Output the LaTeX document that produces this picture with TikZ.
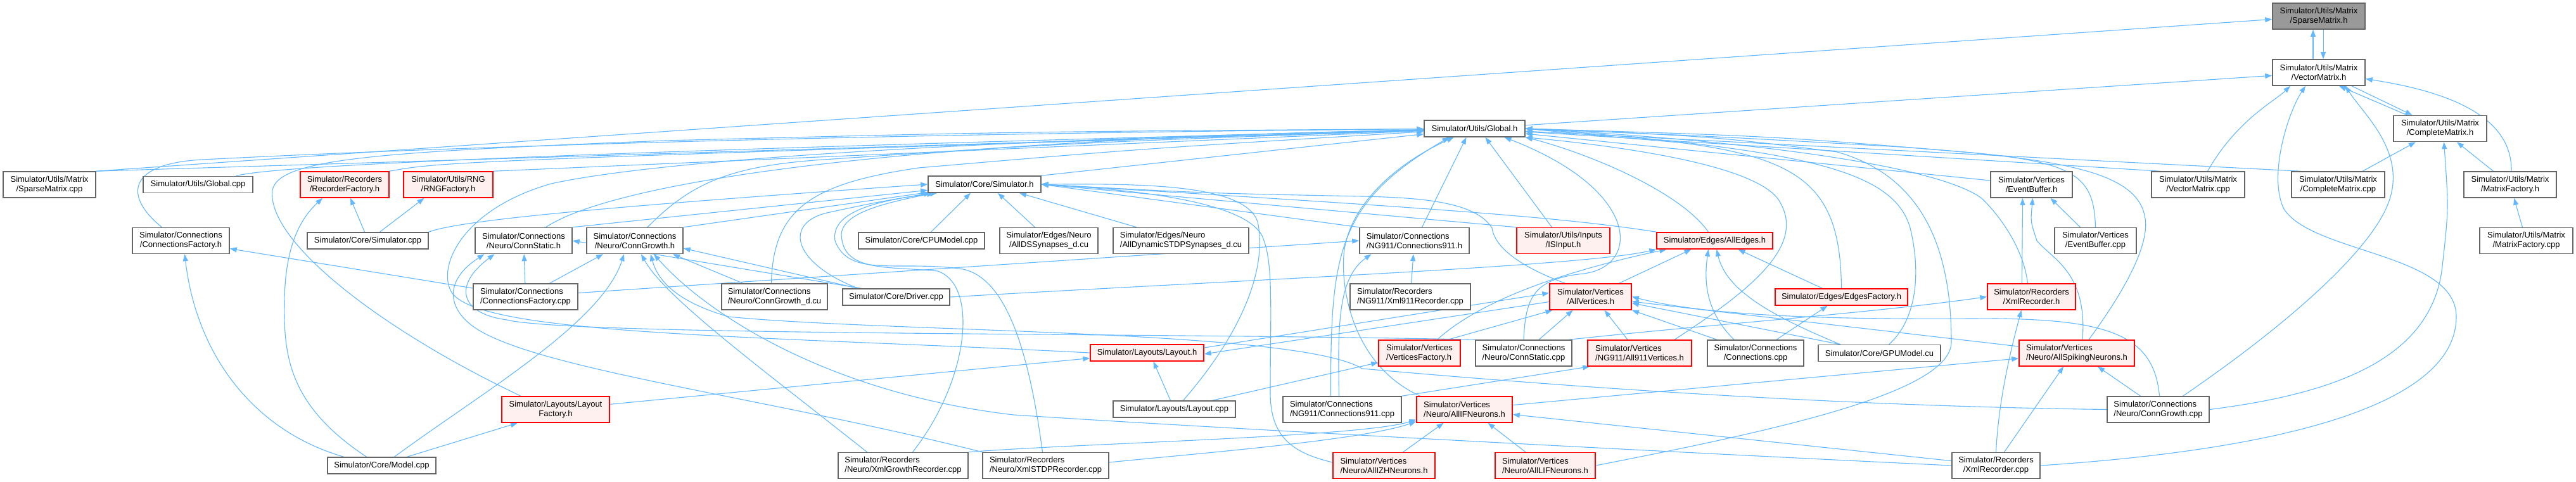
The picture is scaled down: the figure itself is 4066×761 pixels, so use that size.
\documentclass[tikz,border=0pt]{standalone}
\usepackage{fontspec}
\setmainfont{Liberation Sans}
\usetikzlibrary{arrows.meta}
\pgfdeclarelayer{bg}
\pgfsetlayers{bg,main}
\definecolor{edgec}{HTML}{63B8FF}
\definecolor{bordgray}{HTML}{666666}
\definecolor{redfill}{HTML}{FFF0F0}
\definecolor{grayfill}{HTML}{999999}
\tikzset{
  nbox/.style={draw=bordgray, fill=white, line width=1.5bp, inner sep=0pt, minimum height=26bp, align=center, font=\fontsize{13bp}{15bp}\selectfont},
  ntwo/.style={minimum height=41bp},
  nleft/.style={align=left},
  nred/.style={draw=red, fill=redfill},
  ngray/.style={fill=grayfill},
  edg/.style={draw=edgec, line width=1.1bp, -{Triangle[length=11bp,width=8bp]}},
}
\begin{document}
\begin{tikzpicture}[x=1bp,y=-1bp]
\useasboundingbox (0,0) rectangle (4066,761);
% ---------------- nodes
\node[nbox,ntwo,ngray,minimum width=146bp] (spmh) at (3660,25.5) {Simulator/Utils/Matrix\\/SparseMatrix.h};
\node[nbox,ntwo,minimum width=146bp] (vmh) at (3660,114.5) {Simulator/Utils/Matrix\\/VectorMatrix.h};
\node[nbox,minimum width=159bp] (glob) at (2327.5,203) {Simulator/Utils/Global.h};
\node[nbox,ntwo,minimum width=147bp] (cmh) at (3851.5,203) {Simulator/Utils/Matrix\\/CompleteMatrix.h};
\node[nbox,ntwo,minimum width=146bp] (spcpp) at (78,291.5) {Simulator/Utils/Matrix\\/SparseMatrix.cpp};
\node[nbox,minimum width=173bp] (gcpp) at (312.5,291.5) {Simulator/Utils/Global.cpp};
\node[nbox,ntwo,nred,minimum width=140bp] (recf) at (544,291.5) {Simulator/Recorders\\/RecorderFactory.h};
\node[nbox,ntwo,nred,minimum width=141bp] (rngf) at (707.5,291.5) {Simulator/Utils/RNG\\/RNGFactory.h};
\node[nbox,minimum width=178bp] (simh) at (1554,291) {Simulator/Core/Simulator.h};
\node[nbox,ntwo,minimum width=129bp] (evbh) at (3206.5,291.5) {Simulator/Vertices\\/EventBuffer.h};
\node[nbox,ntwo,minimum width=147bp] (vmcpp) at (3469.5,291.5) {Simulator/Utils/Matrix\\/VectorMatrix.cpp};
\node[nbox,ntwo,minimum width=147bp] (cmcpp) at (3690.5,291.5) {Simulator/Utils/Matrix\\/CompleteMatrix.cpp};
\node[nbox,ntwo,minimum width=146bp] (mfh) at (3962,291.5) {Simulator/Utils/Matrix\\/MatrixFactory.h};
\node[nbox,ntwo,minimum width=153bp] (cfh) at (285.5,380) {Simulator/Connections\\/ConnectionsFactory.h};
\node[nbox,minimum width=191bp] (simcpp) at (580.5,380) {Simulator/Core/Simulator.cpp};
\node[nbox,ntwo,minimum width=153bp] (csh) at (826.5,380) {Simulator/Connections\\/Neuro/ConnStatic.h};
\node[nbox,ntwo,minimum width=152bp] (cgh) at (1002,380) {Simulator/Connections\\/Neuro/ConnGrowth.h};
\node[nbox,minimum width=199bp] (cpu) at (1454.5,380) {Simulator/Core/CPUModel.cpp};
\node[nbox,ntwo,minimum width=155bp] (ds) at (1655.5,380) {Simulator/Edges/Neuro\\/AllDSSynapses\_d.cu};
\node[nbox,ntwo,nleft,minimum width=214bp] (dstdp) at (1864,380) {Simulator/Edges/Neuro\\/AllDynamicSTDPSynapses\_d.cu};
\node[nbox,ntwo,nleft,minimum width=173bp] (c911h) at (2232.5,380) {Simulator/Connections\\/NG911/Connections911.h};
\node[nbox,ntwo,nred,minimum width=147bp] (isin) at (2467.5,380) {Simulator/Utils/Inputs\\/ISInput.h};
\node[nbox,nred,minimum width=183bp] (alle) at (2706.5,380) {Simulator/Edges/AllEdges.h};
\node[nbox,ntwo,minimum width=129bp] (evbcpp) at (3307.5,380) {Simulator/Vertices\\/EventBuffer.cpp};
\node[nbox,ntwo,minimum width=147bp] (mfcpp) at (3987.5,380) {Simulator/Utils/Matrix\\/MatrixFactory.cpp};
\node[nbox,ntwo,nleft,minimum width=165bp] (cfcpp) at (829.5,468.5) {Simulator/Connections\\/ConnectionsFactory.cpp};
\node[nbox,ntwo,nleft,minimum width=167bp] (cgdcu) at (1222.5,468.5) {Simulator/Connections\\/Neuro/ConnGrowth\_d.cu};
\node[nbox,minimum width=169bp] (drv) at (1414.5,469) {Simulator/Core/Driver.cpp};
\node[nbox,ntwo,nleft,minimum width=190bp] (x911) at (2226,468.5) {Simulator/Recorders\\/NG911/Xml911Recorder.cpp};
\node[nbox,ntwo,nred,minimum width=129bp] (allv) at (2510.5,468.5) {Simulator/Vertices\\/AllVertices.h};
\node[nbox,nred,minimum width=209bp] (edf) at (2906.5,469) {Simulator/Edges/EdgesFactory.h};
\node[nbox,ntwo,nred,minimum width=139bp] (xmlh) at (3206.5,468.5) {Simulator/Recorders\\/XmlRecorder.h};
\node[nbox,nred,minimum width=179bp] (layh) at (1810.5,557) {Simulator/Layouts/Layout.h};
\node[nbox,ntwo,nred,nleft,minimum width=129bp] (vf) at (2240.5,557.5) {Simulator/Vertices\\/VerticesFactory.h};
\node[nbox,ntwo,nleft,minimum width=152bp] (cscpp) at (2405,557.5) {Simulator/Connections\\/Neuro/ConnStatic.cpp};
\node[nbox,ntwo,nred,nleft,minimum width=164bp] (a911) at (2588,557.5) {Simulator/Vertices\\/NG911/All911Vertices.h};
\node[nbox,ntwo,minimum width=152bp] (conncpp) at (2771,557.5) {Simulator/Connections\\/Connections.cpp};
\node[nbox,minimum width=193bp] (gpu) at (2966.5,557.5) {Simulator/Core/GPUModel.cu};
\node[nbox,ntwo,nred,nleft,minimum width=182bp] (asn) at (3278,557.5) {Simulator/Vertices\\/Neuro/AllSpikingNeurons.h};
\node[nbox,ntwo,nred,minimum width=170bp] (layf) at (877,646.5) {Simulator/Layouts/Layout\\Factory.h};
\node[nbox,minimum width=193bp] (laycpp) at (1853.5,646) {Simulator/Layouts/Layout.cpp};
\node[nbox,ntwo,nleft,minimum width=187bp] (c911cpp) at (2118.5,646.5) {Simulator/Connections\\/NG911/Connections911.cpp};
\node[nbox,ntwo,nred,nleft,minimum width=151bp] (aif) at (2311.5,646.5) {Simulator/Vertices\\/Neuro/AllIFNeurons.h};
\node[nbox,ntwo,nleft,minimum width=161bp] (cgcpp) at (3406.5,646.5) {Simulator/Connections\\/Neuro/ConnGrowth.cpp};
\node[nbox,minimum width=171bp] (model) at (602.5,735) {Simulator/Core/Model.cpp};
\node[nbox,ntwo,nleft,minimum width=205bp] (xgr) at (1425.5,735) {Simulator/Recorders\\/Neuro/XmlGrowthRecorder.cpp};
\node[nbox,ntwo,nleft,minimum width=199bp] (xstdp) at (1650.5,735) {Simulator/Recorders\\/Neuro/XmlSTDPRecorder.cpp};
\node[nbox,ntwo,nred,nleft,minimum width=161bp] (izh) at (2184.5,735) {Simulator/Vertices\\/Neuro/AllIZHNeurons.h};
\node[nbox,ntwo,nred,nleft,minimum width=158bp] (lif) at (2439,735) {Simulator/Vertices\\/Neuro/AllLIFNeurons.h};
\node[nbox,ntwo,minimum width=139bp] (xmlcpp) at (3150.5,735) {Simulator/Recorders\\/XmlRecorder.cpp};
% ---------------- edges
\begin{pgfonlayer}{bg}
\fill[white] (0,0) rectangle (4066,761);
% matrix cluster
\draw[edg] ([xshift=-9bp]vmh.north) -- ([xshift=-9bp]spmh.south);
\draw[edg] ([xshift=7bp]spmh.south) -- ([xshift=7bp]vmh.north);
\draw[edg] (spcpp.north east) -- (spmh);
\draw[edg] (glob) -- (vmh);
\draw[edg] ([xshift=15bp]vmcpp.north) .. controls (3530,190) and (3590,160) .. ([xshift=-45bp]vmh.south);
\draw[edg] ([xshift=-52bp]cmh.north) -- ([xshift=32bp]vmh.south);
\draw[edg] ([xshift=52bp]vmh.south) -- ([xshift=-44bp]cmh.north);
\draw[edg] ([xshift=2bp]mfh.north) .. controls (3965,200) and (3900,150) .. ([yshift=-10bp]vmh.east);
\draw[edg] ([xshift=39bp]cgcpp.north) .. controls (3600,520) and (3740,400) .. (3770,320) .. controls (3800,240) and (3730,180) .. ([xshift=42bp]vmh.south);
\draw[edg] (xmlcpp.east) .. controls (3600,710) and (3877,640) .. (3877,500) .. controls (3877,400) and (3650,400) .. (3605,330) .. controls (3580,280) and (3610,180) .. ([xshift=-21bp]vmh.south);
\draw[edg] (cmcpp) -- (cmh);
\draw[edg] (mfh) -- (cmh);
\draw[edg] (cgcpp.east) .. controls (3700,620) and (3840,560) .. (3855,420) .. controls (3865,330) .. ([xshift=6bp]cmh.south);
\draw[edg] (mfcpp) -- (mfh);
% into Global.h from the left
\draw[edg] (spcpp.north east) -- (glob);
\draw[edg] ([xshift=60bp]gcpp.north) .. controls (420,265) and (700,245) .. (glob);
\draw[edg] (recf.north east) .. controls (700,255) .. (glob);
\draw[edg] (rngf.north east) -- (glob);
\draw[edg] ([xshift=-30bp]cfh.north) .. controls (195,310) and (200,258) .. (320,252) .. controls (900,222) and (1700,208) .. (glob);
\draw[edg] ([xshift=35bp]csh.north) .. controls (950,300) and (1300,225) .. (glob);
\draw[edg] ([xshift=20bp]cgh.north) .. controls (1090,290) and (1150,262) .. (1300,252) .. controls (1700,225) .. (glob);
\draw[edg] (simh.north east) -- (glob);
\draw[edg] ([xshift=-55bp]layf.north) .. controls (600,520) and (420,380) .. (430,300) .. controls (440,250) and (600,240) .. (1050,222) .. controls (1600,208) .. (glob);
\draw[edg] ([xshift=-5bp]cgdcu.north) .. controls (1220,330) and (1280,290) .. (1450,265) .. controls (1800,235) .. (glob);
\draw[edg] (layh.west) .. controls (1200,530) and (750,530) .. (712,460) .. controls (690,420) and (730,330) .. (870,290) .. controls (1100,240) and (1800,215) .. (glob);
% into Global.h from below
\draw[edg] ([xshift=12bp]c911h.north) -- ([xshift=-13bp]glob.south);
\draw[edg] ([xshift=-18bp]isin.north) -- ([xshift=17bp]glob.south);
\draw[edg] ([xshift=-10bp]alle.north) .. controls (2650,300) and (2500,240) .. (glob.south east);
\draw[edg] (cscpp.north) .. controls (2408,470) and (2420,440) .. (2500,432) .. controls (2590,420) and (2590,300) .. ([xshift=47bp]glob.south);
\draw[edg] ([xshift=-18bp]c911cpp.north) .. controls (2100,400) and (2110,320) .. ([xshift=-40bp]glob.south);
\draw[edg] ([xshift=-70bp]aif.north) .. controls (2120,570) and (2112,420) .. (2125,380) .. controls (2140,320) and (2200,260) .. ([xshift=-33bp]glob.south);
\draw[edg] ([xshift=55bp]a911.north) .. controls (2760,460) and (2850,390) .. (2810,320) .. controls (2780,260) and (2550,230) .. (glob.south east);
% into Global.h from the right
\draw[edg] (edf.north) .. controls (2905,300) and (2850,250) .. (2650,225) .. controls (2500,212) .. (glob.east);
\draw[edg] ([xshift=15bp]gpu.north) .. controls (3030,500) and (3030,420) .. (3015,360) .. controls (2990,270) and (2850,235) .. (glob.east);
\draw[edg] (lif.east) .. controls (2800,680) and (3080,620) .. (3080,540) .. controls (3080,400) and (3040,280) .. (2900,240) .. controls (2700,215) .. (glob.east);
\draw[edg] (evbh) -- (glob);
\draw[edg] ([xshift=-60bp]vmcpp.north) -- (glob);
\draw[edg] ([xshift=-60bp]cmcpp.north) -- (glob);
\draw[edg] (evbcpp.north) .. controls (3305,280) and (3280,255) .. (3100,240) .. controls (2800,215) .. (glob.east);
\draw[edg] ([xshift=-6bp]xmlh.north) .. controls (3195,400) and (3165,350) .. (3130,315) .. controls (3090,280) and (2900,230) .. (glob.east);
\draw[edg] ([xshift=19bp]asn.north) .. controls (3360,450) and (3395,380) .. (3385,340) .. controls (3370,270) and (3250,250) .. (3000,232) .. controls (2700,215) .. (glob.east);
% into Simulator.h
\draw[edg] (simcpp.north east) .. controls (720,350) and (900,330) .. (simh.west);
\draw[edg] (csh.north east) -- (simh);
\draw[edg] (cgh.north east) -- (simh);
\draw[edg] ([xshift=15bp]cpu.north) -- ([xshift=-22bp]simh.south);
\draw[edg] ([xshift=-22bp]ds.north) -- ([xshift=21bp]simh.south);
\draw[edg] ([xshift=-70bp]dstdp.north) -- ([xshift=55bp]simh.south);
\draw[edg] ([xshift=15bp]xgr.north) .. controls (1530,600) and (1545,450) .. (1480,428) .. controls (1400,420) and (1330,430) .. (1328,370) .. controls (1330,335) and (1400,320) .. ([xshift=-80bp]simh.south);
\draw[edg] ([xshift=-5bp]xstdp.north) .. controls (1625,560) and (1590,440) .. (1520,425) .. controls (1420,410) and (1340,440) .. (1318,380) .. controls (1310,330) and (1400,315) .. ([xshift=-75bp]simh.south);
\draw[edg] ([xshift=14bp]laycpp.north) .. controls (1965,520) and (2000,420) .. (1985,350) .. controls (1965,290) and (1800,290) .. (simh.east);
\draw[edg] (alle.north west) .. controls (2480,345) and (2300,330) .. (simh.east);
\draw[edg] ([xshift=-40bp]allv.north) .. controls (2410,425) and (2360,395) .. (2355,360) .. controls (2330,320) and (2250,312) .. (2150,310) .. controls (1900,305) .. (simh.east);
\draw[edg] (isin.north west) -- (simh.east);
\draw[edg] (c911h.north west) -- (simh.east);
\draw[edg] ([yshift=5bp]izh.west) .. controls (2040,715) and (2005,690) .. (2005,620) .. controls (2005,500) and (2010,420) .. (1995,380) .. controls (1980,320) and (1800,300) .. (simh.east);
\draw[edg] ([xshift=25bp]drv.north west) .. controls (1250,415) and (1235,350) .. (1310,335) .. controls (1380,320) .. ([xshift=-85bp]simh.south);
% Model.cpp and Simulator.cpp
\draw[edg] ([xshift=-24bp]model.north) .. controls (455,640) and (448,560) .. (449,480) .. controls (449,380) and (480,340) .. ([xshift=-35bp]recf.south);
\draw[edg] ([xshift=-60bp]model.north) .. controls (400,680) and (310,560) .. ([xshift=6bp]cfh.south);
\draw[edg] ([xshift=20bp]model.north) .. controls (760,620) and (950,510) .. ([xshift=-17bp]cgh.south);
\draw[edg] ([xshift=40bp]model.north) -- ([xshift=-60bp]layf.south);
\draw[edg] ([xshift=-5bp]simcpp.north) -- ([xshift=9bp]recf.south);
\draw[edg] ([xshift=19bp]simcpp.north) -- ([xshift=-38bp]rngf.south);
% connections
\draw[edg] (cfcpp) -- (cfh);
\draw[edg] (cfcpp) -- (csh);
\draw[edg] ([xshift=38bp]cfcpp.north) -- ([xshift=-50bp]cgh.south);
\draw[edg] ([yshift=6bp]cfcpp.east) -- (c911h.west);
\draw[edg] (cscpp.north west) .. controls (1800,525) and (900,530) .. (800,505) .. controls (725,495) and (715,450) .. ([xshift=-46bp]csh.south);
\draw[edg] (xstdp.north west) .. controls (1200,625) and (820,580) .. (740,510) .. controls (705,480) and (705,440) .. ([xshift=-62bp]csh.south);
\draw[edg] ([xshift=30bp]drv.north west) -- (csh.east);
\draw[edg] ([xshift=25bp]drv.north west) -- ([yshift=-12bp]cgh.east);
\draw[edg] (drv.east) .. controls (2000,440) and (2500,420) .. (alle.south west);
\draw[edg] ([xshift=-50bp]cgdcu.north) -- ([xshift=60bp]cgh.south);
\draw[edg] ([xshift=-57bp]xgr.north) .. controls (1200,580) and (1050,470) .. ([xshift=10bp]cgh.south);
\draw[edg] (cgcpp.west) .. controls (2800,640) and (2300,595) .. (2150,582) .. controls (2050,520) and (1400,525) .. (1150,500) .. controls (1080,480) and (1040,450) .. ([xshift=25bp]cgh.south);
\draw[edg] (xmlcpp.west) .. controls (2600,712) and (1900,675) .. (1600,655) .. controls (1300,620) and (1110,490) .. ([xshift=30bp]cgh.south);
% neurons, vertices, edges
\draw[edg] (xmlcpp) -- (aif);
\draw[edg] (aif) -- (asn);
\draw[edg] ([xshift=13bp]xmlcpp.north) -- ([xshift=-21bp]asn.south);
\draw[edg] (xmlcpp.north) .. controls (3155,620) and (3180,530) .. ([xshift=-16bp]xmlh.south);
\draw[edg] ([xshift=-28bp]cgcpp.north) -- ([xshift=33bp]asn.south);
\draw[edg] ([xshift=2bp]cgcpp.north) .. controls (3400,530) and (3330,505) .. (3150,503) .. controls (2900,505) and (2700,500) .. (allv.east);
\draw[edg] (asn) -- (allv);
\draw[edg] ([xshift=-62bp]gpu.north) -- ([yshift=-10bp]allv.east);
\draw[edg] ([xshift=45bp]vf.north) -- ([xshift=-60bp]allv.south);
\draw[edg] ([xshift=24bp]cscpp.north) -- ([xshift=-28bp]allv.south);
\draw[edg] ([xshift=-19bp]a911.north) -- ([xshift=22bp]allv.south);
\draw[edg] ([xshift=-61bp]conncpp.north) -- (allv.south east);
\draw[edg] ([yshift=8bp]layh.east) -- ([yshift=6bp]allv.west);
\draw[edg] ([yshift=-8bp]allv.west) -- ([yshift=-2bp]layh.east);
\draw[edg] ([xshift=28bp]vf.north) .. controls (2330,480) and (2450,432) .. ([xshift=-76bp]alle.south);
\draw[edg] ([xshift=45bp]allv.north) -- ([xshift=-37bp]alle.south);
\draw[edg] ([xshift=-34bp]conncpp.north) .. controls (2690,490) and (2690,440) .. ([xshift=-10bp]alle.south);
\draw[edg] ([xshift=-62bp]gpu.north) .. controls (2800,500) and (2725,460) .. ([xshift=3bp]alle.south);
\draw[edg] ([xshift=-30bp]edf.north) -- ([xshift=37bp]alle.south);
\draw[edg] ([xshift=33bp]conncpp.north) -- ([xshift=-22bp]edf.south);
\draw[edg] (c911cpp.north east) -- ([xshift=4bp]a911.south west);
\draw[edg] (x911) -- (c911h);
\draw[edg] ([xshift=-5bp]c911cpp.north) .. controls (2112,520) and (2110,440) .. ([xshift=-68bp]c911h.south);
\draw[edg] ([xshift=-6bp]laycpp.north) -- ([xshift=10bp]layh.south);
\draw[edg] (layf) -- (layh);
\draw[edg] (laycpp) -- (vf);
\draw[edg] ([xshift=30bp]izh.north) -- ([xshift=-33bp]aif.south);
\draw[edg] ([xshift=-31bp]lif.north) -- ([xshift=37bp]aif.south);
\draw[edg] (xgr.north east) .. controls (1700,700) and (2150,690) .. ([yshift=-16bp]aif.west);
\draw[edg] ([yshift=5bp]xstdp.east) .. controls (1900,715) and (2150,695) .. ([yshift=-19bp]aif.west);
\draw[edg] ([xshift=-5bp]cscpp.north east) .. controls (2700,512) and (2950,495) .. (xmlh.west);
\draw[edg] ([xshift=-15bp]xmlh.north) -- ([xshift=-14bp]evbh.south);
\draw[edg] ([xshift=9bp]asn.north) .. controls (3295,430) and (3240,410) .. (3215,380) .. controls (3205,350) .. ([xshift=2bp]evbh.south);
\draw[edg] ([xshift=-24bp]evbcpp.north) -- ([xshift=30bp]evbh.south);
\end{pgfonlayer}
\end{tikzpicture}
\end{document}
